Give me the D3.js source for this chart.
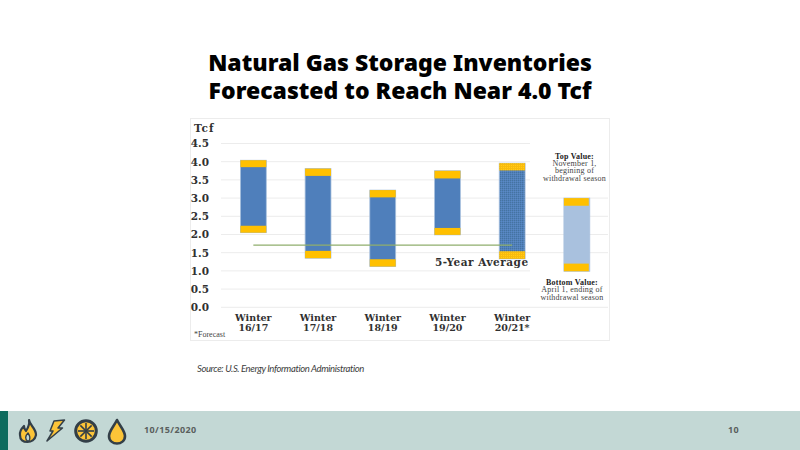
<!DOCTYPE html>
<html>
<head>
<meta charset="utf-8">
<script src="https://d3js.org/d3.v7.min.js"></script>
<style>
  html, body { margin: 0; padding: 0; background: #fff; overflow: hidden; }
  svg { display: block; }
  .serif { font-family: "DejaVu Serif", serif; font-weight: bold; fill: #303030; }
  .note { font-family: "Liberation Serif", serif; fill: #444; }
</style>
</head>
<body>
<svg id="slide"></svg>
<script>
const categories = ["Winter 16/17", "Winter 17/18", "Winter 18/19", "Winter 19/20", "Winter 20/21*", "key"];
const topValues = [4.04, 3.81, 3.22, 3.75, 3.96, 3.0];
const topCapBottom = [3.85, 3.61, 3.02, 3.54, 3.76, 2.79];
const bottomCapTop = [2.24, 1.55, 1.32, 2.18, 1.54, 1.2];
const bottomValues = [2.05, 1.35, 1.12, 1.99, 1.33, 0.99];
const yTicks = [0, 0.5, 1, 1.5, 2, 2.5, 3, 3.5, 4, 4.5];
const fiveYearAverage = 1.71;
const titleLines = ["Natural Gas Storage Inventories", "Forecasted to Reach Near 4.0 Tcf"];

const width = 800, height = 450;
const svg = d3.select("#slide").attr("width", width).attr("height", height);

const defs = svg.append("defs");
function dotPattern(id, base, dark, light) {
  const p = defs.append("pattern").attr("id", id)
    .attr("width", 2).attr("height", 2).attr("patternUnits", "userSpaceOnUse");
  p.append("rect").attr("width", 2).attr("height", 2).attr("fill", base);
  p.append("rect").attr("width", 1).attr("height", 1).attr("fill", dark);
  p.append("rect").attr("x", 1).attr("y", 1).attr("width", 1).attr("height", 1).attr("fill", light);
}
dotPattern("dots", "#4f7fbb", "#46749f", "#5c8ac2");
dotPattern("dotsGold", "#ffc000", "#f0b61a", "#ffc81f");

// title
svg.append("g").selectAll("text").data(titleLines).enter().append("text")
  .attr("x", 400)
  .attr("y", (d, i) => 71 + i * 28)
  .attr("text-anchor", "middle")
  .style("font-family", "'Noto Sans', sans-serif")
  .style("font-weight", 900)
  .style("font-size", "23px")
  .style("fill", "#000")
  .text(d => d);

// chart panel
svg.append("rect")
  .attr("x", 190.5).attr("y", 118.5).attr("width", 419).attr("height", 222)
  .attr("fill", "#fff").attr("stroke", "#ececec");

const y = d3.scaleLinear().domain([0, 4.5]).range([307.3, 143.5]);
const x = d3.scaleBand().domain(categories).range([221, 609.2]).paddingInner(0.6).paddingOuter(0.3);
const bw = x.bandwidth();

const yAxis = d3.axisLeft(y).tickValues(yTicks).tickFormat(d3.format(".1f")).tickSize(0).tickPadding(3);
const axisG = svg.append("g").attr("transform", "translate(212,0)").call(yAxis);
axisG.select(".domain").remove();
axisG.selectAll("text").attr("class", "serif").style("font-size", "10.5px").attr("fill", null);

svg.append("g").selectAll("line").data(yTicks).enter().append("line")
  .attr("x1", 221).attr("x2", 608)
  .attr("y1", d => y(d)).attr("y2", d => y(d))
  .attr("stroke", "#ececec");

// the note boxes sit over the gridlines
svg.append("rect").attr("x", 530).attr("y", 140).attr("width", 78).attr("height", 45).attr("fill", "#fff");
svg.append("rect").attr("x", 530).attr("y", 268).attr("width", 78).attr("height", 37).attr("fill", "#fff");

// bars
const bars = svg.append("g").selectAll("g").data(categories).enter().append("g");
bars.append("rect")
  .attr("x", d => x(d)).attr("width", bw)
  .attr("y", (d, i) => y(topValues[i]))
  .attr("height", (d, i) => y(bottomValues[i]) - y(topValues[i]))
  .attr("fill", (d, i) => i === 5 ? "#a9c1de" : i === 4 ? "url(#dots)" : "#4f7fbb")
  .attr("stroke", "#a9c1de").attr("stroke-width", 0.8);
const capFill = (d, i) => i === 4 ? "url(#dotsGold)" : "#ffc000";
bars.append("rect")
  .attr("x", d => x(d)).attr("width", d => d === "key" ? bw - 1 : bw)
  .attr("y", (d, i) => y(topValues[i]))
  .attr("height", (d, i) => y(topCapBottom[i]) - y(topValues[i]))
  .attr("fill", capFill);
bars.append("rect")
  .attr("x", d => x(d)).attr("width", d => d === "key" ? bw - 1 : bw)
  .attr("y", (d, i) => y(bottomCapTop[i]))
  .attr("height", (d, i) => y(bottomValues[i]) - y(bottomCapTop[i]))
  .attr("fill", capFill);

// 5-year average line
svg.append("line")
  .attr("x1", x(categories[0]) + bw / 2)
  .attr("x2", x(categories[4]) + bw / 2)
  .attr("y1", y(fiveYearAverage)).attr("y2", y(fiveYearAverage))
  .attr("stroke", "#8fae6d").attr("stroke-width", 1.2);

// x labels
const xLabels = svg.append("g").selectAll("text").data(categories.slice(0, 5)).enter().append("text")
  .attr("class", "serif")
  .attr("text-anchor", "middle")
  .style("font-size", "9.5px");
xLabels.append("tspan").attr("x", d => x(d) + bw / 2).attr("y", 321).text(d => d.split(" ")[0]);
xLabels.append("tspan").attr("x", d => x(d) + bw / 2).attr("y", 331).text(d => d.split(" ")[1]);

svg.append("text").attr("class", "serif").attr("x", 194).attr("y", 132)
  .style("font-size", "10.5px").style("letter-spacing", "1px").text("Tcf");
svg.append("text").attr("class", "note").attr("x", 194).attr("y", 337).style("font-size", "8px").text("*Forecast");
svg.append("text").attr("class", "serif").attr("x", 435).attr("y", 266)
  .style("font-size", "10.5px").style("letter-spacing", "0.5px").text("5-Year Average");

const topNote = ["Top Value:", "November 1,", "begining of", "withdrawal season"];
const bottomNote = ["Bottom Value:", "April 1, ending of", "withdrawal season"];
function addNote(lines, cx, y0) {
  svg.append("g").selectAll("text").data(lines).enter().append("text")
    .attr("class", "note")
    .attr("x", cx).attr("y", (d, i) => y0 + i * 7.4)
    .attr("text-anchor", "middle")
    .style("font-size", "8px")
    .style("letter-spacing", "0.22px")
    .style("font-weight", (d, i) => i === 0 ? "bold" : "normal")
    .style("fill", (d, i) => i === 0 ? "#222" : "#444")
    .text(d => d);
}
addNote(topNote, 574.5, 158.5);
addNote(bottomNote, 572, 285);

// source
svg.append("text")
  .attr("x", 197).attr("y", 372)
  .style("font-family", "Lato, sans-serif").style("font-style", "italic")
  .style("font-size", "9.5px").style("letter-spacing", "-0.38px")
  .style("fill", "#3c3c3c")
  .text("Source: U.S. Energy Information Administration");

// footer
svg.append("rect").attr("x", 0).attr("y", 411).attr("width", width).attr("height", 39).attr("fill", "#c3d8d5");
svg.append("rect").attr("x", 0).attr("y", 411).attr("width", 8).attr("height", 39).attr("fill", "#0e6b5e");

const iconFill = "#fcc438", iconStroke = "#333f48";
const icons = svg.append("g").attr("fill", iconFill).attr("stroke", iconStroke).attr("stroke-width", 2.2).attr("stroke-linejoin", "round");
icons.append("path").attr("d", "M29 420 C30 426 36 428 36 435 C35 440 31 442 27.5 442 C23 442 20 440 20 435 C19.5 431 22 428 24 426 C24 429 25 430 26 431 C28 428 30 425 29 420 Z");
icons.append("path").attr("d", "M27.5 441 C25 439 25 436 28 433 C30 436 31 438 29 441 Z").attr("fill", "#c3d8d5").attr("stroke-width", 1.4);
icons.append("path").attr("d", "M54 421 L64.5 420 L58 428 L62.5 428 L47 441 L53 431 L50 431 Z").attr("stroke-width", 1.5);
icons.append("circle").attr("cx", 86).attr("cy", 431).attr("r", 10.3).attr("stroke-width", 3);
const spokes = [0, 45, 90, 135, 180, 225, 270, 315];
icons.append("g").selectAll("line").data(spokes).enter().append("line")
  .attr("x1", 86).attr("y1", 431).attr("x2", 86).attr("y2", 423)
  .attr("transform", d => `rotate(${d} 86 431)`)
  .attr("stroke-width", 1.6);
icons.append("path").attr("d", "M117 420 C120 426 125 431 125 436 C125 441 121 443.5 117 443.5 C113 443.5 109 441 109 436 C109 431 114 426 117 420 Z").attr("stroke-width", 2.6);

const footText = g => g.style("font-family", "'Noto Sans', sans-serif").style("font-weight", 700)
  .style("font-size", "9px").style("letter-spacing", "0.4px").style("fill", "#5a5f5e");
svg.append("text").attr("x", 144).attr("y", 433).call(footText).text("10/15/2020");
svg.append("text").attr("x", 728).attr("y", 433).call(footText).text("10");
</script>
</body>
</html>
